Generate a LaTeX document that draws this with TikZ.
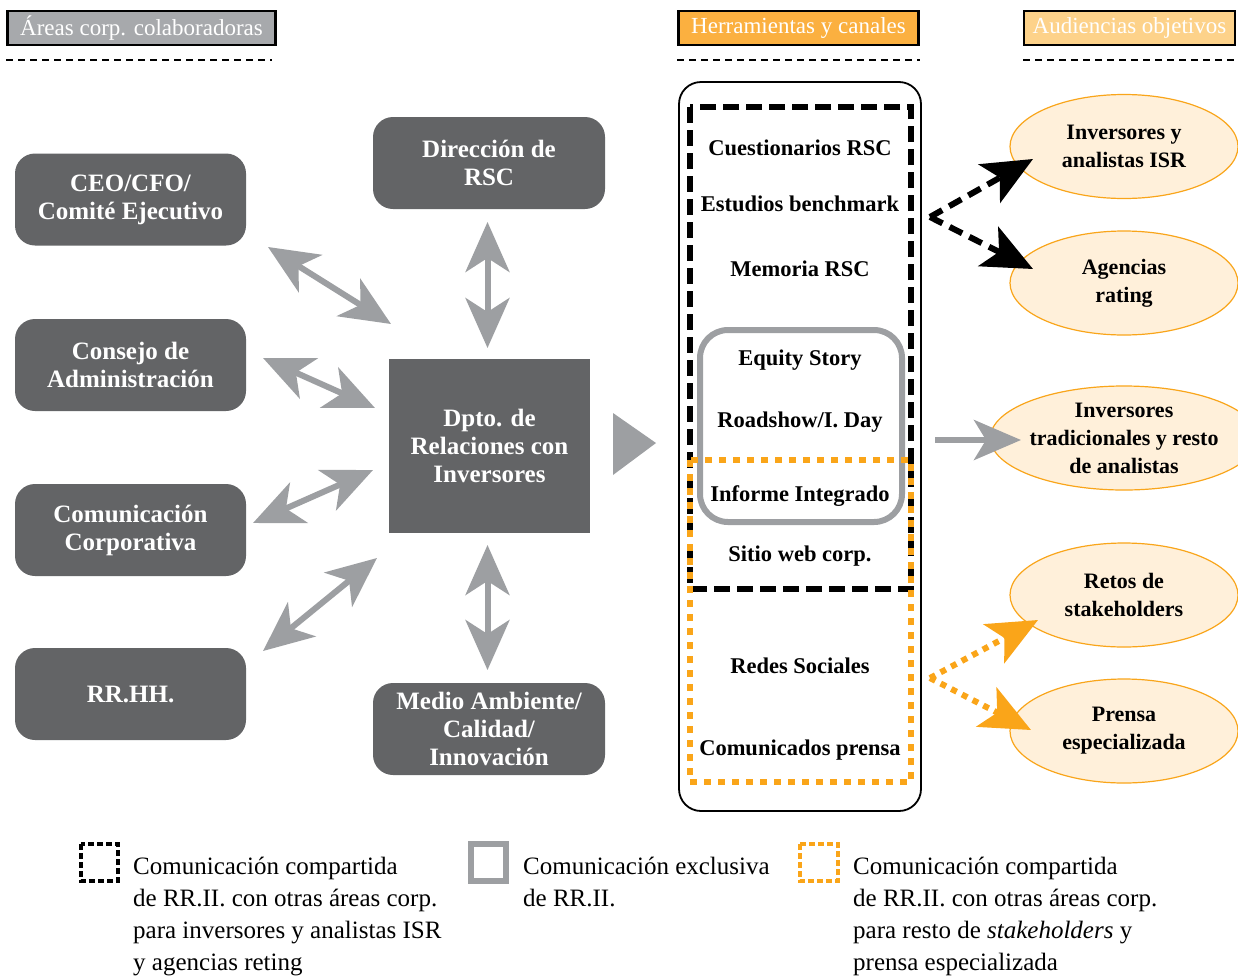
\documentclass[tikz,border=0pt]{standalone}
\usepackage{fontspec}
\setmainfont{Liberation Serif}
\usetikzlibrary{arrows.meta,shapes.geometric}
\definecolor{boxgrey}{HTML}{636466}
\definecolor{arrowgrey}{HTML}{9D9FA2}
\definecolor{headgrey}{HTML}{A7A9AC}
\definecolor{headorange}{HTML}{FBB040}
\definecolor{headlight}{HTML}{FDD28A}
\definecolor{audfill}{HTML}{FFF0DA}
\definecolor{audline}{HTML}{F9A51A}
\definecolor{dotorange}{HTML}{FAA519}
\tikzset{
  darkbox/.style={fill=boxgrey, text=white, rounded corners=20pt, minimum width=231pt, minimum height=92pt, inner sep=0pt, align=center, font=\fontsize{25}{28}\selectfont\bfseries},
  hdr/.style={draw=black, line width=2.5pt, text=white, minimum height=34pt, inner sep=0pt, font=\fontsize{23}{26}\selectfont},
  sepline/.style={line width=2.2pt, dash pattern=on 7pt off 5pt},
  greyhead/.tip={Stealth[length=50pt,width=44pt,inset=14pt]},
  dbl/.style={draw=arrowgrey, line width=6pt, greyhead-greyhead},
  tool/.style={font=\fontsize{22.5}{26}\selectfont\bfseries, inner sep=0pt, anchor=base},
  aud/.style={ellipse, draw=audline, line width=1.2pt, fill=audfill, minimum width=228pt, minimum height=104pt, inner sep=0pt, align=center, font=\fontsize{22}{28}\selectfont\bfseries},
  legtext/.style={font=\fontsize{25}{32}\selectfont, align=left, inner sep=0pt, anchor=north west},
  bigtip/.style={-{Stealth[length=50pt,width=44pt,inset=12pt]}},
}
\begin{document}
\begin{tikzpicture}[x=1pt,y=-1pt]
\useasboundingbox (0,0) rectangle (1238,975);

% headers
\node[hdr, fill=headgrey, minimum width=268pt] (h1) at (141.5,28) {Áreas corp. colaboradoras};
\node[hdr, fill=headorange, minimum width=240pt] (h2) at (798.5,28) {Herramientas y canales};
\node[hdr, fill=headlight, minimum width=211pt] (h3) at (1129.5,28) {Audiencias objetivos};
\draw[sepline] (6,60) -- (272,60);
\draw[sepline] (677,60) -- (920,60);
\draw[sepline] (1023,60) -- (1236,60);

% collaborating areas
\node[darkbox] (ceo) at (130.5,199.5) {CEO/CFO/\\Comité Ejecutivo};
\node[darkbox] (consejo) at (130.5,365) {Consejo de\\Administración};
\node[darkbox] (comcorp) at (130.5,530) {Comunicación\\Corporativa};
\node[darkbox] (rrhh) at (130.5,694) {RR.HH.};
\node[darkbox, minimum width=232pt] (rsc) at (489,163) {Dirección de\\RSC};
\node[darkbox, minimum width=232pt] (medio) at (489,729) {Medio Ambiente/\\Calidad/\\Innovación};
\node[darkbox, rounded corners=0pt, minimum width=201pt, minimum height=174pt] (ir) at (489.5,446) {Dpto. de\\Relaciones con\\Inversores};

% arrow end points
\coordinate (a1s) at (268,247); \coordinate (a1e) at (391,324);
\coordinate (a2s) at (263,358); \coordinate (a2e) at (375,408);
\coordinate (a3s) at (253,523); \coordinate (a3e) at (373,470);
\coordinate (a4s) at (263,651); \coordinate (a4e) at (377,558);
\coordinate (v1s) at (487.5,222); \coordinate (v1e) at (487.5,348);
\coordinate (v2s) at (487.5,545); \coordinate (v2e) at (487.5,670);
\draw[dbl] (a1s) -- (a1e);
\draw[dbl] (a2s) -- (a2e);
\draw[dbl] (a3s) -- (a3e);
\draw[dbl] (a4s) -- (a4e);
\draw[dbl] (v1s) -- (v1e);
\draw[dbl] (v2s) -- (v2e);

% big triangle
\fill[arrowgrey] (613,413) -- (613,475) -- (656,443) -- cycle;

% tools column
\draw[line width=1.8pt, rounded corners=22pt] (679,82) rectangle (921,811);
\draw[line width=6pt, dash pattern=on 16pt off 7pt] (690,107) rectangle (911,589);
\draw[arrowgrey, line width=6pt, rounded corners=28pt] (700,330) rectangle (902,522);
\draw[dotorange, line width=6pt, dash pattern=on 7pt off 7pt] (690,460) rectangle (911,782);

\node[tool] (t1) at (800,155) {Cuestionarios RSC};
\node[tool] (t2) at (800,211) {Estudios benchmark};
\node[tool] (t3) at (800,276) {Memoria RSC};
\node[tool] (t4) at (800,365) {Equity Story};
\node[tool] (t5) at (800,427) {Roadshow/I. Day};
\node[tool] (t6) at (800,501) {Informe Integrado};
\node[tool] (t7) at (800,561) {Sitio web corp.};
\node[tool] (t8) at (800,673) {Redes Sociales};
\node[tool] (t9) at (800,755) {Comunicados prensa};

% audiences
\node[aud] (isr) at (1124,146.5) {Inversores y\\analistas ISR};
\node[aud] (rating) at (1124,283) {Agencias\\rating};
\node[aud] (trad) at (1124,438) {Inversores\\tradicionales y resto\\de analistas};
\node[aud] (retos) at (1124,595) {Retos de\\stakeholders};
\node[aud] (prensa) at (1124,731) {Prensa\\especializada};

% audience arrows
\coordinate (bsrc) at (930,217);
\coordinate (btip1) at (1033,159);
\coordinate (btip2) at (1033,269);
\draw[line width=6pt, dash pattern=on 14pt off 8pt, bigtip] (bsrc) -- (btip1);
\draw[line width=6pt, dash pattern=on 14pt off 8pt, bigtip] (bsrc) -- (btip2);

\coordinate (gsrc) at (935,440);
\coordinate (gtip) at (1021,440);
\draw[arrowgrey, line width=6pt, -{Stealth[length=47pt,width=40pt,inset=12pt]}] (gsrc) -- (gtip);

\coordinate (osrc) at (930,678);
\coordinate (otip1) at (1038,620);
\coordinate (otip2) at (1031,730);
\draw[dotorange, line width=6pt, dash pattern=on 6pt off 6pt, bigtip] (osrc) -- (otip1);
\draw[dotorange, line width=6pt, dash pattern=on 6pt off 6pt, bigtip] (osrc) -- (otip2);

% legend
\draw[line width=4pt, dash pattern=on 6pt off 3pt] (81,844) rectangle (118,881);
\node[legtext] (l1) at (133,857) {Comunicación compartida\\de RR.II. con otras áreas corp.\\para inversores y analistas ISR\\y agencias reting};
\draw[arrowgrey, line width=6pt] (471,844) rectangle (506,881);
\node[legtext] (l2) at (523,857) {Comunicación exclusiva\\de RR.II.};
\draw[dotorange, line width=4pt, dash pattern=on 6pt off 3pt] (800,844) rectangle (838,881);
\node[legtext] (l3) at (853,857) {Comunicación compartida\\de RR.II. con otras áreas corp.\\para resto de \textit{stakeholders} y\\prensa especializada};
\end{tikzpicture}
\end{document}
